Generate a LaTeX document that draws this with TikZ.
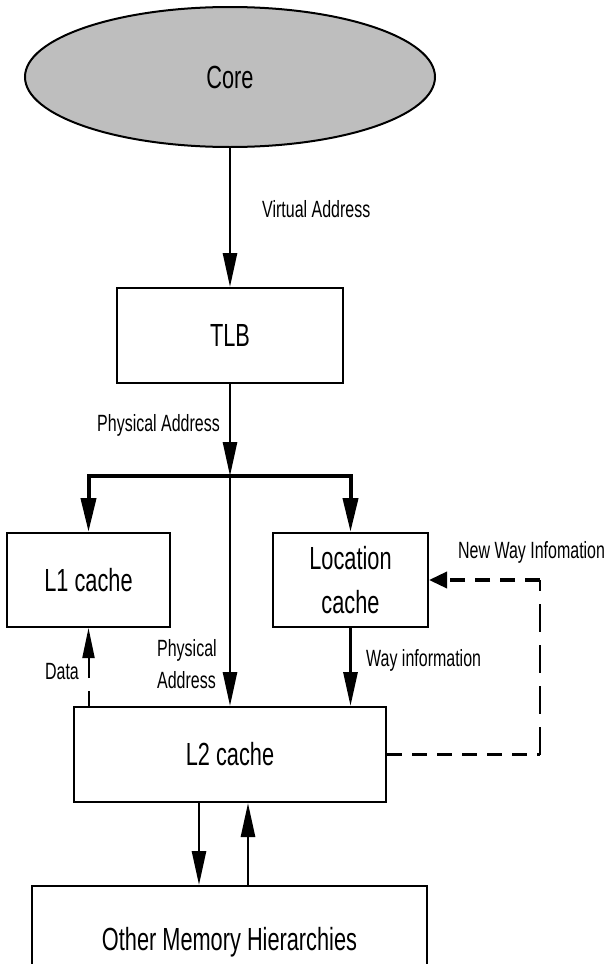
\documentclass[tikz,border=0pt]{standalone}
\usepackage{fontspec}
\setmainfont[FakeStretch=0.68]{Liberation Sans}
\usetikzlibrary{arrows.meta,shapes.geometric}
\definecolor{coregray}{RGB}{190,190,190}
\newcommand\mainfs{\fontsize{32}{36}\selectfont}
\newcommand\labfs{\fontsize{23.5}{32}\selectfont}
\begin{document}
\begin{tikzpicture}[x=1pt,y=-1pt,
  box/.style={draw, line width=2pt, rectangle, inner sep=0pt, font=\mainfs},
  lab/.style={inner sep=0pt, font=\labfs},
  varr/.style={line width=2.7pt, -{Triangle[length=34pt,width=14pt]}},
  branch/.style={line width=4pt, line join=miter, -{Triangle[length=34pt,width=15pt]}},
  dataarr/.style={line width=2pt, dash pattern=on 15pt off 13pt on 200pt off 0pt, -{Triangle[length=30pt,width=12pt]}},
  hdash/.style={line width=3.5pt, dash pattern=on 15pt off 10pt},
  vdash/.style={line width=2pt, dash pattern=on 28pt off 13pt},
  harr/.style={-{Triangle[length=18pt,width=16pt]}}
]
\useasboundingbox (0,0) rectangle (611,964);
\clip (0,0) rectangle (611,964);

% nodes
\node[ellipse, draw, fill=coregray, line width=2pt, minimum width=410pt, minimum height=140pt, inner sep=0pt, font=\mainfs] (core) at (230,77) {Core};
\node[box, minimum width=226pt, minimum height=95pt] (tlb) at (230,335.5) {TLB};
\node[box, minimum width=163pt, minimum height=94pt] (l1) at (88.5,580) {L1 cache};
\node[box, minimum width=155pt, minimum height=94pt, align=center, font=\fontsize{32}{44}\selectfont] (loc) at (350.5,580) {Location\\cache};
\node[box, minimum width=312pt, minimum height=95pt] (l2) at (230,754.5) {L2 cache};
\node[box, minimum width=395pt, minimum height=112pt] (oth) at (229.5,942) {Other Memory Hierarchies};

% labels
\node[lab, anchor=west] (va) at (262,209) {Virtual Address};
\node[lab, anchor=east] (pa) at (220,425) {Physical Address};
\node[lab, anchor=west, align=left] (pa2) at (157,664) {Physical\\Address};
\node[lab] (data) at (62,672) {Data};
\node[lab, anchor=west] (wi) at (366,660) {Way information};
\node[lab, anchor=west] (nwi) at (458,552) {New Way Infomation};

% coordinates
\coordinate (j) at (230,476);
\coordinate (d1) at (199,0);
\coordinate (u1) at (248,0);
\coordinate (c1) at (540,754.5);
\coordinate (c2) at (540,580);

% connectors
\draw[varr] (core.south) -- (tlb.north);
\draw[varr] (tlb.south) -- (j);
\draw[branch] (j) -| (l1.north);
\draw[branch] (j) -| (loc.north);
\draw[varr] (j) -- (l2.north -| j);
\draw[varr, line width=3pt] (loc.south) -- (loc.south |- l2.north);
\draw[dataarr] (l1.south |- l2.north) -- (l1.south);
\draw[varr] (l2.south -| d1) -- (oth.north -| d1);
\draw[varr] (oth.north -| u1) -- (l2.south -| u1);
\draw[hdash] (l2.east) -- (c1);
\draw[vdash] (c1) -- (c2);
\draw[hdash, harr] (c2) -- (loc.east);
\end{tikzpicture}
\end{document}
